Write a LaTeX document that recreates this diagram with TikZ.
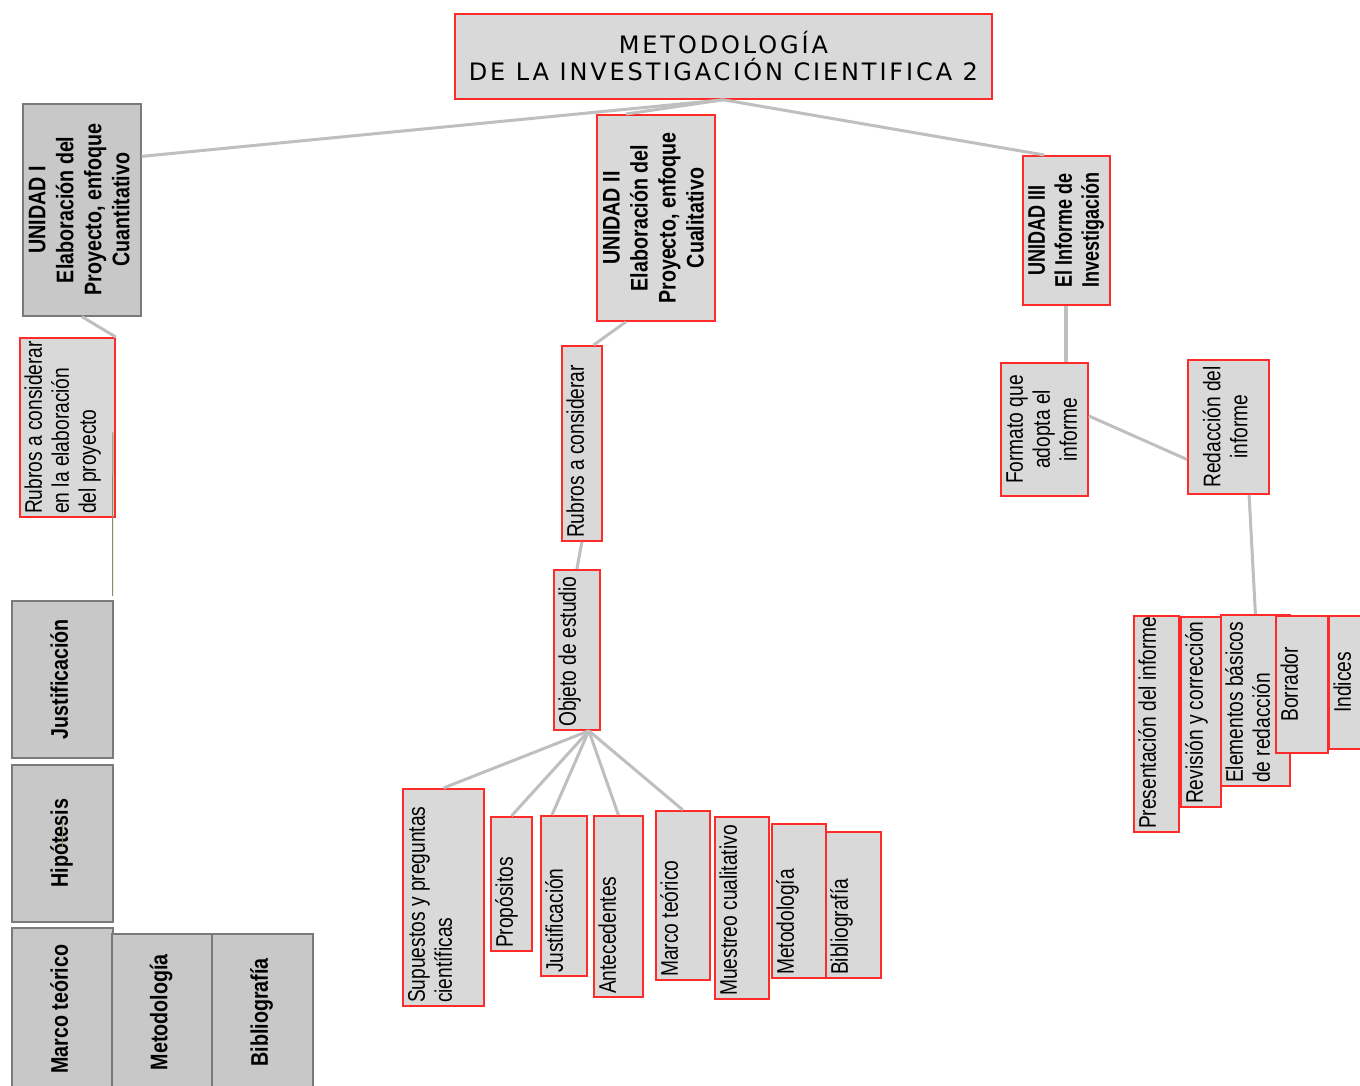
\documentclass[tikz,border=0pt]{standalone}
\usepackage{fontspec}
\usepackage{graphicx}
\usetikzlibrary{calc}
\setmainfont{Liberation Sans}
\newfontfamily\normsf[FakeStretch=0.80]{Liberation Sans}
\newfontfamily\boldsf[FakeStretch=0.82]{Liberation Sans}
\newfontfamily\midsf[FakeStretch=0.75]{Liberation Sans}
\newfontfamily\titlesf[LetterSpace=12]{DejaVu Sans}
\definecolor{boxfill}{HTML}{D9D9D9}
\definecolor{darkfill}{HTML}{C8C8C8}
\definecolor{boxred}{HTML}{FF2A2A}
\definecolor{boxgray}{HTML}{7A7A7A}
\definecolor{linkgray}{HTML}{BFBFBF}
\definecolor{olivelink}{HTML}{8C8A64}
\newdimen\pxu \pxu=0.5pt
% rotated text, centred in its box
\newcommand{\vmid}[1]{\rotatebox{90}{\begin{tabular}{@{}c@{}}#1\end{tabular}}}
% rotated text, starting at the lower left corner of its box
\newcommand{\vcorner}[4][\raggedright]{\rotatebox{90}{\parbox[c][#3\pxu][t]{#2\pxu}{#1\begin{tabular}[t]{@{}l@{}}#4\end{tabular}}}}
\begin{document}
\begin{tikzpicture}[x=0.5pt, y=-0.5pt,
    dims/.style 2 args={minimum width=#1*0.5pt, minimum height=#2*0.5pt},
    redbox/.style={draw=boxred, line width=0.9pt, fill=boxfill, inner sep=1.5pt, anchor=north west,
        font=\normsf\fontsize{12}{13.5}\selectfont},
    graybox/.style={draw=boxgray, line width=0.8pt, fill=darkfill, inner sep=1.5pt, anchor=north west,
        font=\boldsf\bfseries\fontsize{12}{14}\selectfont},
    boldtext/.style={font=\boldsf\bfseries\fontsize{12}{14}\selectfont},
    link/.style={draw=linkgray, line width=1.5pt},
    thinlink/.style={draw=olivelink, line width=0.5pt}]
    \useasboundingbox (0,0) rectangle (1360,1086);
    \clip (0,0) rectangle (1360,1086);
    % Title
    \node[redbox, dims={537}{85}, align=center, font=\titlesf\fontsize{12}{13.5}\selectfont] (title) at (454,13)
        {METODOLOGÍA\\DE LA INVESTIGACIÓN CIENTIFICA 2};
    % Units
    \node[graybox, dims={114}{212}] (u1) at (22,103)
        {\vmid{UNIDAD I\\Elaboración del\\Proyecto, enfoque\\Cuantitativo}};
    \node[redbox, boldtext, dims={114}{206}] (u2) at (596,114)
        {\vmid{UNIDAD II\\Elaboración del\\Proyecto, enfoque\\Cualitativo}};
    \node[redbox, dims={78}{149}, font=\midsf\bfseries\fontsize{12}{13.5}\selectfont] (u3) at (1022,155)
        {\vmid{UNIDAD III\\El Informe de\\Investigación}};
    % Unit I
    \node[redbox] (r1) at (19,337) {\vcorner{173}{89}{Rubros a considerar\\en la elaboración\\del proyecto}};
    \node[graybox, dims={101}{157}] (j1) at (11,600) {\vmid{Justificación}};
    \node[graybox, dims={101}{157}] (h1) at (11,764) {\vmid{Hipótesis}};
    \node[graybox, dims={101}{163}] (m1) at (11,927) {\vmid{Marco teórico}};
    \node[graybox, dims={100}{157}] (met1) at (111,933) {\vmid{Metodología}};
    \node[graybox, dims={101}{157}] (bib1) at (211,933) {\vmid{Bibliografía}};
    % Unit II
    \node[redbox] (r2) at (561,345) {\vcorner{189}{34}{Rubros a considerar}};
    \node[redbox] (obj) at (553,569) {\vcorner{154}{40}{Objeto de estudio}};
    \node[redbox] (sup) at (402,788) {\vcorner{211}{75}{Supuestos y preguntas\\científicas}};
    \node[redbox] (prop) at (490,816) {\vcorner{128}{35}{Propósitos}};
    \node[redbox] (just2) at (540,815) {\vcorner{154}{40}{Justificación}};
    \node[redbox] (ante) at (593,815) {\vcorner{175}{43}{Antecedentes}};
    \node[redbox] (marco2) at (655,810) {\vcorner{163}{48}{Marco teórico}};
    \node[redbox] (mues) at (714,816) {\vcorner{176}{48}{Muestreo cualitativo}};
    \node[redbox] (met2) at (771,823) {\vcorner{148}{48}{Metodología}};
    \node[redbox] (bib2) at (825,831) {\vcorner{140}{49}{Bibliografía}};
    % Unit III
    \node[redbox, dims={82}{133}] (form) at (1000,362) {\vmid{Formato que\\adopta el\\informe}};
    \node[redbox, dims={81}{134}] (red) at (1187,359) {\vmid{Redacción del\\informe}};
    \node[redbox] (pres) at (1133,615) {\vcorner{210}{39}{Presentación del informe}};
    \node[redbox] (rev) at (1180,616) {\vcorner{184}{34}{Revisión y corrección}};
    \node[redbox] (elem) at (1220,614) {\vcorner{165}{63}{Elementos básicos\\de redacción}};
    \node[redbox] (borr) at (1275,615) {\vcorner[\centering]{131}{46}{Borrador}};
    \node[redbox] (indi) at (1328,615) {\vcorner[\centering]{127}{34}{Indices}};
    % Draw links
    \draw[link] (title.south) -- ($(u1.north east)!0.25!(u1.south east)$);
    \draw[link] (title.south) -- ($(u2.north west)!0.25!(u2.north east)$);
    \draw[link] (title.south) -- ($(u3.north west)!0.25!(u3.north east)$);
    \draw[link] (u1.south) -- (r1.north east);
    \draw[thinlink] ([xshift=-1.5pt,yshift=-2.5pt]r1.east) -- ([xshift=-0.5pt,yshift=2pt]j1.north east);
    \draw[thinlink] ([yshift=12pt]h1.center) -- ([yshift=-2pt]h1.center);
    \draw[link] ($(u2.south west)!0.25!(u2.south east)$) -- ($(r2.north west)!0.78!(r2.north east)$);
    \draw[link] (r2.south) -- (obj.north);
    \coordinate (fan) at ($(obj.south west)!0.75!(obj.south east)$);
    \foreach \leaf in {sup,prop,ante,marco2} {
        \draw[link] (fan) -- (\leaf.north);
    }
    \draw[link] (fan) -- ($(just2.north west)!0.25!(just2.north east)$);
    \draw[link, line width=2pt] (u3.south) -- (u3.south |- form.north);
    \draw[link] ($(form.north east)!0.4!(form.south east)$) -- ($(red.north west)!0.74!(red.south west)$);
    \draw[link] ($(red.south west)!0.75!(red.south east)$) -- (elem.north);
\end{tikzpicture}
\end{document}
